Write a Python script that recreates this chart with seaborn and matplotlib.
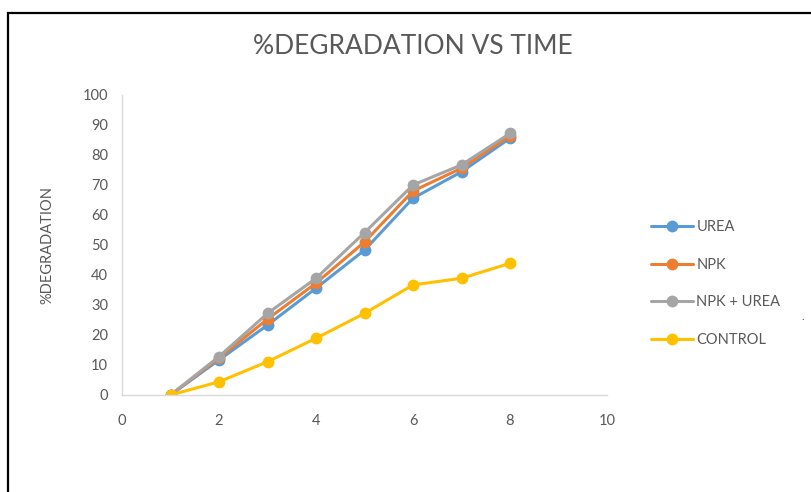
import matplotlib
matplotlib.use("Agg")
import matplotlib.pyplot as plt
from matplotlib.patches import Rectangle
import pandas as pd
import seaborn as sns

# Sampling times and % degradation for each treatment
time = [1, 2, 3, 4, 5, 6, 7, 8]
urea = [0, 11.7, 23.3, 35.6, 48.3, 65.6, 74.4, 85.6]
npk = [0, 12.3, 25.3, 37.3, 51.0, 68.0, 75.6, 86.4]
npk_urea = [0, 12.8, 27.2, 38.9, 54.1, 70.0, 76.7, 87.2]
control = [0, 4.4, 11.1, 18.9, 27.2, 36.7, 38.9, 43.9]

series_names = ["UREA", "NPK", "NPK + UREA", "CONTROL"]
series_colors = ["#5B9BD5", "#ED7D31", "#A5A5A5", "#FFC000"]
x_ticks = [0, 2, 4, 6, 8, 10]
y_ticks = [0, 10, 20, 30, 40, 50, 60, 70, 80, 90, 100]

frames = []
for name, vals in zip(series_names, [urea, npk, npk_urea, control]):
    frames.append(pd.DataFrame({"time": time, "deg": vals, "series": name}))
df = pd.concat(frames, ignore_index=True)

sns.set_theme(style="white")
plt.rcParams["font.family"] = ["Lato", "DejaVu Sans"]

text_color = "#595959"
fig = plt.figure(figsize=(8.11, 4.92), dpi=100)
ax = fig.add_axes([122 / 811, 97 / 492, 485 / 811, 300 / 492])

sns.lineplot(
    data=df, x="time", y="deg", hue="series",
    hue_order=series_names, palette=series_colors,
    marker="o", markersize=8.5, markeredgewidth=0,
    linewidth=2.2, ax=ax, legend=True,
)

ax.set_xlim(0, 10)
ax.set_ylim(0, 100)
ax.set_xticks(x_ticks)
ax.set_yticks(y_ticks)
ax.tick_params(axis="x", length=0, pad=14, labelsize=10.5, labelcolor=text_color)
ax.tick_params(axis="y", length=0, pad=10, labelsize=10.5, labelcolor=text_color)
ax.set_xlabel("")
ax.set_ylabel("%DEGRADATION", fontsize=10.5, color=text_color, labelpad=20)
for side in ["top", "right"]:
    ax.spines[side].set_visible(False)
for side in ["left", "bottom"]:
    ax.spines[side].set_color("#D9D9D9")
    ax.spines[side].set_linewidth(1.0)
ax.grid(False)

handles, labels = ax.get_legend_handles_labels()
ax.legend_.remove()
fig.legend(
    handles, labels, loc="upper left", bbox_to_anchor=(638 / 811, 1 - 207 / 492),
    frameon=False, fontsize=10.5, labelcolor=text_color,
    handlelength=2.9, handletextpad=0.2, labelspacing=1.62,
)

fig.text(413 / 811, 1 - 47 / 492, "%DEGRADATION VS TIME",
         ha="center", va="center", fontsize=19, color=text_color,
         family=["Liberation Sans Narrow", "Lato", "DejaVu Sans"])
fig.text(803 / 811, 1 - 316 / 492, ".", ha="center", va="center",
         fontsize=8, color=text_color)

# Outer frame of the chart
fig.patches.append(Rectangle((8 / 811, -0.1), 1.2, 1 - 13 / 492 + 0.1,
                             transform=fig.transFigure, fill=False,
                             edgecolor="black", linewidth=1.6))

fig.savefig("out.png", dpi=100)
